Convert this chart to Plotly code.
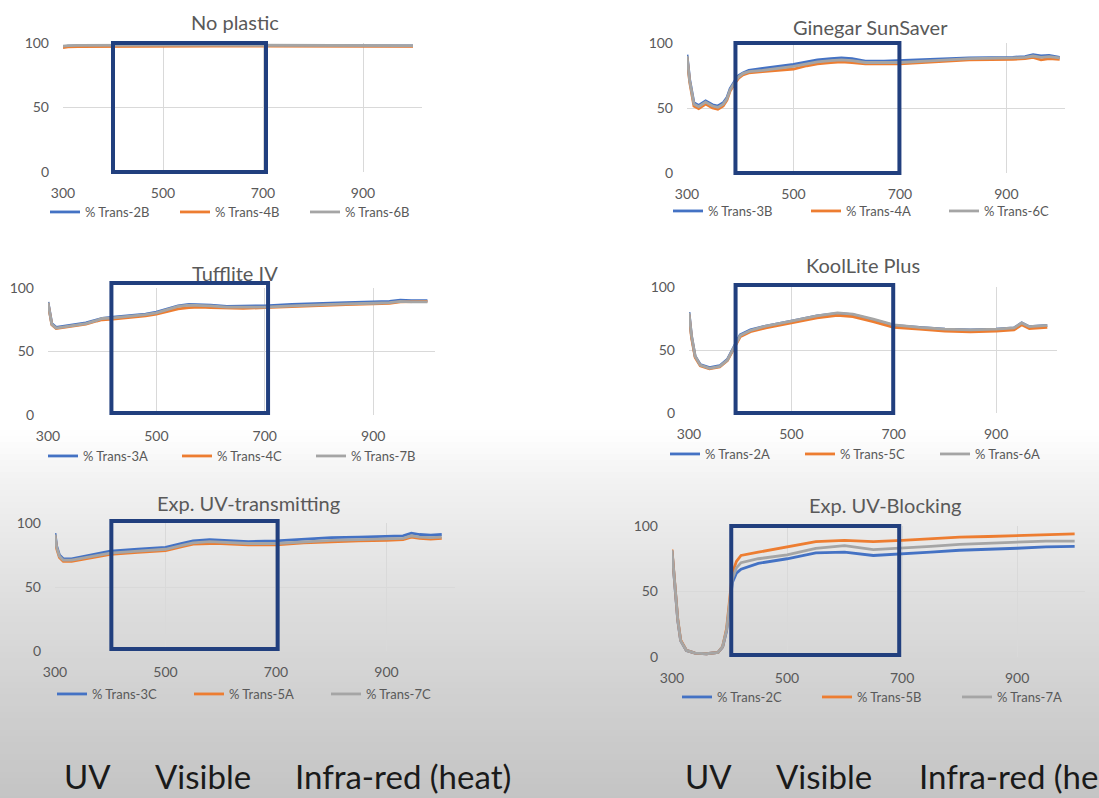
import plotly.graph_objects as go

# ---------------- DATA ----------------
titles = ["No plastic", "Ginegar SunSaver", "Tufflite IV", "KoolLite Plus",
          "Exp. UV-transmitting", "Exp. UV-Blocking"]
series_names = [["% Trans-2B", "% Trans-4B", "% Trans-6B"],
                ["% Trans-3B", "% Trans-4A", "% Trans-6C"],
                ["% Trans-3A", "% Trans-4C", "% Trans-7B"],
                ["% Trans-2A", "% Trans-5C", "% Trans-6A"],
                ["% Trans-3C", "% Trans-5A", "% Trans-7C"],
                ["% Trans-2C", "% Trans-5B", "% Trans-7A"]]
x_ticks = [300, 500, 700, 900]
y_ticks = [0, 50, 100]

# Panel 1: No plastic
wl_1 = [300, 310, 330, 360, 400, 450, 500, 600, 700, 800, 900, 1000]
t_2B = [97, 97.5, 97.8, 98, 98, 98, 98, 98, 98, 98, 98, 97.8]
t_4B = [96.5, 97, 97.2, 97.3, 97.5, 97.5, 97.5, 97.6, 97.6, 97.6, 97.6, 97.4]
t_6B = [97.5, 98, 98.2, 98.3, 98.3, 98.3, 98.3, 98.3, 98.2, 98.2, 98.1, 98]

# Panel 2: Ginegar SunSaver
wl_2 = [300, 305, 313, 322, 335, 348, 358, 368, 375, 381, 390, 397, 405, 416, 442, 470,
        500, 525, 545, 570, 590, 610, 635, 670, 700, 765, 830, 912, 935, 950, 965, 980, 1000]
t_3B = [91, 72, 54, 52, 55.5, 52.5, 51.5, 54, 58, 65, 71, 75, 77, 79, 80.5, 82,
        83.5, 85.5, 87, 88, 88.5, 88, 86, 86, 86.5, 87.5, 88.5, 89, 89.5, 91, 90, 90.5, 89]
t_4A = [89, 70, 51.5, 49.5, 53, 50, 49, 51.5, 56, 63, 69, 73, 75.5, 77, 78, 79,
        80, 82.5, 84, 85, 85.5, 85, 84, 84, 84, 85.5, 87, 87.5, 88, 89, 87, 88, 87.5]
t_6C = [90, 71, 53, 51, 54.5, 51.5, 50.5, 53, 57, 64, 70, 74, 76.5, 78, 79, 80.5,
        82, 84, 85.5, 86.5, 87, 86.5, 85, 85, 85, 86.5, 88, 88.5, 89, 90, 89, 89.5, 88.5]

# Panel 3: Tufflite IV
wl_3 = [300, 303, 307, 315, 330, 350, 370, 390, 400, 420, 450, 480, 500, 520, 540,
        560, 580, 600, 630, 660, 700, 750, 800, 850, 900, 930, 950, 970, 1000]
t_3A = [89, 80, 72, 69, 70, 71, 72.5, 75, 76, 77, 78, 79.5, 81, 83.5, 86,
        87, 87, 86.5, 85.5, 85.5, 86, 87, 88, 88.5, 89, 89.5, 90.5, 90, 90]
t_4C = [88, 79, 71, 68, 69, 70, 71.5, 74, 75, 75.5, 76.5, 78, 79.5, 81.5, 83.5,
        84.5, 85, 84.5, 84, 84, 84.5, 85.5, 86.5, 87, 87.5, 88, 89, 89, 89.5]
t_7B = [88.5, 79.5, 71.5, 68.5, 69.5, 70.5, 72, 74.5, 76, 76.5, 77.5, 79, 80.5, 83, 85.5,
        86.5, 86.5, 86, 85, 85, 85, 86, 87, 87.5, 88, 88.5, 89.5, 89, 89]

# Panel 4: KoolLite Plus
wl_4 = [300, 305, 312, 322, 340, 360, 375, 388, 400, 420, 450, 500, 550, 590, 620,
        660, 700, 750, 800, 850, 900, 935, 950, 965, 1000]
t_2A = [80, 61, 45, 38.5, 36, 37.5, 42.5, 53, 62, 66, 69, 73, 77, 79, 78,
        74, 69.5, 68, 66.5, 66, 66.5, 67.5, 71.5, 68.5, 69.5]
t_5C = [78, 59.5, 44, 37.5, 35, 36.5, 41.5, 51.5, 60.5, 64.5, 67.5, 71.5, 75.5, 77.5, 76.5,
        72.5, 68, 66.5, 65, 64.5, 65, 66, 70, 67, 68]
t_6A = [79.5, 61, 45, 38, 35.5, 37, 42, 52.5, 61.5, 65.5, 69, 73, 77, 79.5, 78.5,
        74.5, 70, 68, 66.5, 66, 66.5, 67.5, 71.5, 68.5, 69.5]

# Panel 5: Exp. UV-transmitting
wl_5 = [300, 303, 308, 315, 330, 360, 400, 450, 500, 530, 550, 580, 600, 650, 700,
        750, 800, 850, 900, 930, 945, 960, 980, 1000]
t_3C = [92, 82, 75, 72, 72, 74.5, 78, 79.5, 81, 84, 86, 87, 86.5, 85.5, 86,
        87.5, 88.5, 89, 89.5, 90, 92, 91, 90.5, 91]
t_5A = [90, 80, 73, 70, 70, 72.5, 75.5, 77, 78.5, 81.5, 83.5, 84, 84, 83, 83,
        84.5, 85.5, 86, 86.5, 87, 89, 88, 87.5, 88]
t_7C = [91, 81, 74, 71, 71, 73.5, 76.5, 78, 79.5, 82.5, 84.5, 85.5, 85, 84, 84,
        85.5, 86.5, 87, 87.5, 88, 90, 89, 88.5, 89]

# Panel 6: Exp. UV-Blocking
wl_6 = [300, 305, 310, 315, 325, 340, 360, 380, 388, 395, 400, 405, 412, 420, 450,
        500, 550, 600, 650, 700, 750, 800, 850, 900, 950, 1000]
t_2C = [81, 51, 28, 12.5, 5, 3, 2.5, 3.5, 7.5, 20, 40, 57, 64, 67, 71.5,
        75, 79.5, 80, 77.5, 78.5, 80, 81.5, 82, 83, 84, 84.5]
t_5B = [82, 52, 29, 13, 5, 3, 2.5, 3.5, 8, 22, 45, 64, 73, 77.5, 80,
        84, 88, 89, 88, 89, 90.5, 91.5, 92, 92.5, 93, 94]
t_7A = [81.5, 51.5, 28.5, 12.5, 5, 3, 2.5, 3.5, 8, 21, 42, 60, 68, 72, 75,
        78, 83, 85, 82, 83, 84.5, 86, 87, 88, 88.5, 88.5]

# highlighted visible band (nm) and its vertical extent (%) per panel
box_x0 = [400, 391, 417, 391, 402, 403]
box_x1 = [706, 699, 706, 699, 703, 695]
box_y0 = [0, 0, 1.6, 0, 1.5, 1.5]
box_y1 = [100, 100, 104, 101.6, 101.5, 100]

footer_words = ["UV", "Visible", "Infra-red (heat)"]

# ---------------- STYLE / GEOMETRY ----------------
W, H = 1099, 798
colors = ["#4472C4", "#ED7D31", "#A5A5A5"]
FONT = "Lato, 'Open Sans', sans-serif"
GREY = "#595959"

# pixel geometry: left, right, top(y=100), bottom(y=0), x max
geom = [(63, 422, 43, 172, 1018),
        (687, 1065, 43, 173, 1010),
        (48, 435, 288, 415, 1014),
        (689, 1057, 287, 413, 1019),
        (55, 455, 523, 651, 1024),
        (672, 1085, 526, 657, 1018)]
title_pos = [(235, 22), (870, 27), (235, 273), (863, 265), (248, 503), (885, 505)]
legend_pos = [(50, 212, 130), (673, 211, 138), (48, 456, 134),
              (670, 454, 135), (57, 694, 137), (682, 697, 140)]

wls = [wl_1, wl_2, wl_3, wl_4, wl_5, wl_6]
vals = [[t_2B, t_4B, t_6B], [t_3B, t_4A, t_6C], [t_3A, t_4C, t_7B],
        [t_2A, t_5C, t_6A], [t_3C, t_5A, t_7C], [t_2C, t_5B, t_7A]]

fig = go.Figure()
shapes = []
annotations = []
layout = {}

# background gradient bands (slide look)
stops = [(0, 255), (430, 255), (480, 242), (600, 222), (700, 208), (798, 196)]
def grey_at(y):
    for (y0, c0), (y1, c1) in zip(stops[:-1], stops[1:]):
        if y0 <= y <= y1:
            return c0 + (c1 - c0) * (y - y0) / (y1 - y0) if y1 > y0 else c0
    return stops[-1][1]
band = 6
y = 430
while y < H:
    c = int(round(grey_at(y + band / 2)))
    shapes.append(dict(type="rect", xref="paper", yref="paper", x0=0, x1=1,
                       y0=1 - min(y + band, H) / H, y1=1 - y / H,
                       fillcolor=f"rgb({c},{c},{c})", line=dict(width=0), layer="below"))
    y += band

for i in range(6):
    n = i + 1
    xa = "x" if n == 1 else f"x{n}"
    ya = "y" if n == 1 else f"y{n}"
    lg = "legend" if n == 1 else f"legend{n}"
    L, R, T, B, xmax = geom[i]
    for k in range(3):
        fig.add_trace(go.Scatter(x=wls[i], y=vals[i][k], mode="lines",
                                 name=series_names[i][k],
                                 line=dict(color=colors[k], width=2.8),
                                 xaxis=xa, yaxis=ya, legend=lg, showlegend=True))
    layout["xaxis" if n == 1 else f"xaxis{n}"] = dict(
        domain=[L / W, R / W], range=[300, xmax], tickvals=x_ticks,
        showgrid=True, gridcolor="#d9d9d9", gridwidth=1, zeroline=False,
        showline=False, ticks="", ticklabelstandoff=11, automargin=False,
        tickfont=dict(family=FONT, size=14, color=GREY), anchor=ya)
    layout["yaxis" if n == 1 else f"yaxis{n}"] = dict(
        domain=[1 - B / H, 1 - T / H], range=[0, 100], tickvals=y_ticks,
        showgrid=True, gridcolor="#d9d9d9", gridwidth=1, zeroline=False,
        showline=False, ticks="", ticklabelstandoff=13, automargin=False,
        tickfont=dict(family=FONT, size=14, color=GREY), anchor=xa)
    # visible-band box
    shapes.append(dict(type="rect",
                       xref=f"{xa} domain", yref=f"{ya} domain",
                       x0=(box_x0[i] - 300) / (xmax - 300), x1=(box_x1[i] - 300) / (xmax - 300),
                       y0=box_y0[i] / 100, y1=box_y1[i] / 100,
                       line=dict(color="#213F7E", width=4), fillcolor="rgba(0,0,0,0)",
                       layer="above"))
    tx, ty = title_pos[i]
    annotations.append(dict(text=titles[i], x=tx / W, y=1 - ty / H, xref="paper", yref="paper",
                            xanchor="center", yanchor="middle", showarrow=False,
                            font=dict(family=FONT, size=20, color=GREY)))
    lx, ly, step = legend_pos[i]
    layout[lg] = dict(orientation="h", x=(lx - 5) / W, y=1 - ly / H, xanchor="left",
                      yanchor="middle", bgcolor="rgba(0,0,0,0)",
                      font=dict(family=FONT, size=13, color=GREY),
                      entrywidth=step - 45, entrywidthmode="pixels",
                      itemwidth=30, tracegroupgap=0)

# footer words
footer_x = [[62, 153, 293], [683, 774, 917]]
for row in footer_x:
    for wx, word in zip(row, footer_words):
        annotations.append(dict(text=word, x=wx / W, y=1 - 776 / H, xref="paper", yref="paper",
                                xanchor="left", yanchor="middle", showarrow=False,
                                font=dict(family="Lato, sans-serif", size=33, color="#1a1a1a")))

fig.update_layout(width=W, height=H,
                  margin=dict(l=0, r=0, t=0, b=0, pad=0, autoexpand=False),
                  paper_bgcolor="white", plot_bgcolor="rgba(0,0,0,0)",
                  shapes=shapes, annotations=annotations, **layout)
fig.write_html("out.html", config={"displayModeBar": False},
               post_script="document.body.style.margin='0';document.body.style.overflow='hidden';")
